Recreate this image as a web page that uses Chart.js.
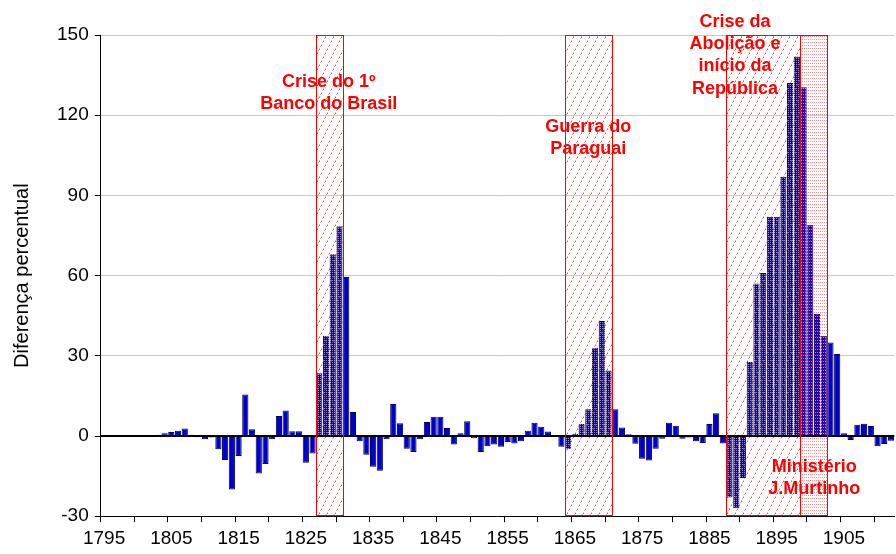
<!DOCTYPE html>
<html>
<head>
<meta charset="utf-8">
<script src="https://cdn.jsdelivr.net/npm/chart.js@4"></script>
<style>
  html, body { margin: 0; padding: 0; background: #fff; overflow: hidden; }
</style>
</head>
<body>
<canvas id="grafico" width="896" height="554"></canvas>
<script>
// anos 1795..1912, valores so a partir de 1803
const anos = [];
for (let a = 1795; a <= 1912; a++) anos.push(String(a));

const anosDados = [1803, 1804, 1805, 1806, 1807, 1808, 1809, 1810, 1811, 1812,
  1813, 1814, 1815, 1816, 1817, 1818, 1819, 1820, 1821, 1822,
  1823, 1824, 1825, 1826, 1827, 1828, 1829, 1830, 1831, 1832,
  1833, 1834, 1835, 1836, 1837, 1838, 1839, 1840, 1841, 1842,
  1843, 1844, 1845, 1846, 1847, 1848, 1849, 1850, 1851, 1852,
  1853, 1854, 1855, 1856, 1857, 1858, 1859, 1860, 1861, 1862,
  1863, 1864, 1865, 1866, 1867, 1868, 1869, 1870, 1871, 1872,
  1873, 1874, 1875, 1876, 1877, 1878, 1879, 1880, 1881, 1882,
  1883, 1884, 1885, 1886, 1887, 1888, 1889, 1890, 1891, 1892,
  1893, 1894, 1895, 1896, 1897, 1898, 1899, 1900, 1901, 1902,
  1903, 1904, 1905, 1906, 1907, 1908, 1909, 1910, 1911, 1912];

const diferenca = [0.5, 1, 1.5, 2, 2.8, 0.5, -0.5, -1.2, -0.6, -5,
  -9, -20, -7.5, 15.5, 2.5, -14, -10.5, -1.2, 7.5, 9.5,
  1.8, 1.8, -10, -6.5, 23.5, 37.5, 68, 78.5, 59.5, 9,
  -2, -7, -11.5, -13, -1.2, 12, 4.8, -4.8, -6, -1.2,
  5.2, 7.2, 7.2, 3, -3.2, 1, 5.5, -0.8, -6, -3.8,
  -3.2, -4, -2.2, -2.8, -2, 2, 5, 3.5, 1.7, -0.3,
  -4, -5, 0.8, 4.5, 10, 33, 43, 24.5, 10, 3.2,
  0.7, -2.9, -8.5, -9.2, -4.8, -1, 5, 3.8, -1, -0.6,
  -2, -2.6, 4.5, 8.5, -2.8, -23, -27, -15.7, 27.7, 57,
  61, 82, 82, 97, 132, 142, 130.5, 79, 45.7, 37.5,
  35, 30.7, 1, -1.5, 4.2, 4.6, 3.7, -3.8, -3, -1.8];

const yTicks = [-30, 0, 30, 60, 90, 120, 150];

// periodos de crise (ano inicial e final, inclusive)
const periodoInicio = [1827, 1864, 1888, 1899];
const periodoFim = [1830, 1870, 1898, 1902];
const periodoTipo = ['hachura', 'hachura', 'hachura', 'pontos'];

// textos em vermelho: linhas, ano e valor da primeira linha
const notaTextos = [
  ['Crise do 1º', 'Banco do Brasil'],
  ['Guerra do', 'Paraguai'],
  ['Crise da', 'Abolição e', 'início da', 'República'],
  ['Ministério', 'J.Murtinho']
];
const notaAno = [1828.4, 1867, 1888.8, 1900.6];
const notaValor = [132.4, 115.5, 154.9, -11.6];

const valores = anos.map(a => {
  const k = anosDados.indexOf(Number(a));
  return k >= 0 ? diferenca[k] : null;
});

function padraoHachura(ctx) {
  const c = document.createElement('canvas');
  c.width = 8; c.height = 16;
  const g = c.getContext('2d');
  g.fillStyle = 'rgba(255,255,255,0.55)';
  for (let y = 0; y < 16; y += 2) {
    for (let x = 0; x < 8; x += 2) g.fillRect(x, y, 1, 1);
  }
  for (let y = 0; y < 16; y++) {
    const x = 7 - Math.floor(y / 2);
    g.clearRect(x, y, 1, 1);
    if (y % 4 === 3) continue;
    g.fillStyle = (y % 2 === 0) ? 'rgba(255,110,110,0.55)' : 'rgba(255,0,0,0.7)';
    g.fillRect(x, y, 1, 1);
  }
  return ctx.createPattern(c, 'repeat');
}

function padraoPontos(ctx) {
  const c = document.createElement('canvas');
  c.width = 2; c.height = 3;
  const g = c.getContext('2d');
  g.fillStyle = 'rgba(255,0,0,0.45)';
  g.fillRect(0, 0, 1, 1);
  g.fillStyle = 'rgba(255,255,255,0.55)';
  g.fillRect(1, 1, 1, 1);
  return ctx.createPattern(c, 'repeat');
}

const periodosPlugin = {
  id: 'periodos',
  afterDatasetsDraw(chart) {
    const ctx = chart.ctx;
    const x = chart.scales.x, y = chart.scales.y;
    const area = chart.chartArea;
    const meio = (x.getPixelForValue(1) - x.getPixelForValue(0)) / 2;
    const top = y.getPixelForValue(150), bot = y.getPixelForValue(-30);
    const hach = padraoHachura(ctx), pts = padraoPontos(ctx);

    ctx.save();
    const caixas = periodoInicio.map((ini, i) => {
      const x0 = Math.round(x.getPixelForValue(ini - 1795) - meio);
      const x1 = Math.round(x.getPixelForValue(periodoFim[i] - 1795) + meio);
      return [x0, x1];
    });
    caixas.forEach(([x0, x1], i) => {
      ctx.fillStyle = periodoTipo[i] === 'pontos' ? pts : hach;
      ctx.fillRect(x0, top, x1 - x0, bot - top);
    });

    // linha do zero
    const y0 = Math.round(y.getPixelForValue(0));
    ctx.fillStyle = '#000';
    ctx.fillRect(area.left, y0 - 1, area.right - area.left, 2);

    ctx.strokeStyle = '#ff0000';
    ctx.lineWidth = 1;
    caixas.forEach(([x0, x1]) => {
      ctx.strokeRect(x0 + 0.5, Math.round(top) + 0.5, x1 - x0, Math.round(bot - top) - 1);
    });
    ctx.restore();
  },
  afterDraw(chart) {
    const ctx = chart.ctx;
    const x = chart.scales.x, y = chart.scales.y;
    ctx.save();
    ctx.font = 'bold 18px "Liberation Sans", Arial, sans-serif';
    ctx.fillStyle = '#ff0000';
    ctx.textAlign = 'center';
    ctx.textBaseline = 'middle';
    notaTextos.forEach((linhas, i) => {
      const px = x.getPixelForValue(notaAno[i] - 1795);
      const py = y.getPixelForValue(notaValor[i]);
      linhas.forEach((t, k) => ctx.fillText(t, px, py + k * 22.3));
    });
    ctx.restore();
  }
};

const ctx = document.getElementById('grafico').getContext('2d');

const chart = new Chart(ctx, {
  type: 'bar',
  data: {
    labels: anos,
    datasets: [{
      label: 'Diferença percentual',
      data: valores,
      backgroundColor: '#0000c8',
      borderColor: '#000060',
      borderWidth: 1,
      barPercentage: 0.92,
      categoryPercentage: 1
    }]
  },
  options: {
    responsive: false,
    animation: false,
    layout: { padding: { top: 35, right: 0, left: 10, bottom: -1 } },
    plugins: {
      legend: { display: false },
      tooltip: { enabled: false }
    },
    scales: {
      x: {
        offset: true,
        grid: {
          offset: true,
          drawOnChartArea: false,
          tickLength: 6,
          color: c => (c.index % 5 === 0 ? '#000' : 'rgba(0,0,0,0)')
        },
        border: { color: '#000', width: 1 },
        ticks: {
          autoSkip: false,
          maxRotation: 0,
          minRotation: 0,
          padding: 5,
          color: '#000',
          font: { family: '"Liberation Sans", Arial, sans-serif', size: 19 },
          callback: (v, i) => (i % 10 === 0 ? anos[i] : '')
        }
      },
      y: {
        min: -30,
        max: 150,
        afterBuildTicks: s => { s.ticks = yTicks.map(v => ({ value: v })); },
        grid: {
          color: c => (c.tick && c.tick.value === 0 ? 'rgba(0,0,0,0)' : '#c8c8c8'),
          tickColor: '#000',
          tickLength: 6
        },
        border: { color: '#000', width: 1 },
        ticks: {
          padding: 6,
          color: '#000',
          font: { family: '"Liberation Sans", Arial, sans-serif', size: 19 }
        },
        title: {
          display: true,
          text: 'Diferença percentual',
          color: '#000',
          padding: { top: 0, bottom: 17 },
          font: { family: '"Liberation Sans", Arial, sans-serif', size: 20 }
        }
      }
    }
  },
  plugins: [periodosPlugin]
});
</script>
</body>
</html>
